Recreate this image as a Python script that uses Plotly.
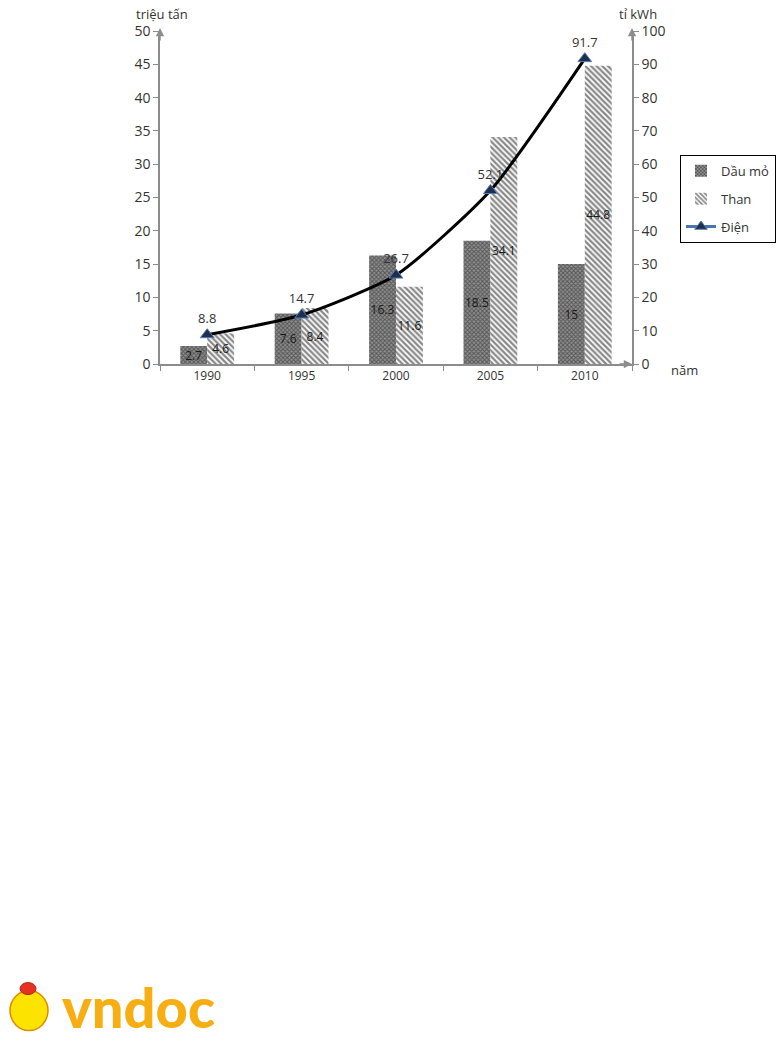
import plotly.graph_objects as go

years = ["1990", "1995", "2000", "2005", "2010"]
dau_mo = [2.7, 7.6, 16.3, 18.5, 15]
than = [4.6, 8.4, 11.6, 34.1, 44.8]
dien = [8.8, 14.7, 26.7, 52.1, 91.7]

FONT = "Open Sans"
AX = "#8c8c8c"
TXT = "#333333"

fig = go.Figure()

fig.add_trace(go.Bar(
    x=years, y=dau_mo, name="Dầu mỏ",
    marker=dict(color="#6a6a6a",
                pattern=dict(shape="x", fgcolor="#1a1a1a", bgcolor="#909090", size=3, solidity=0.55),
                line=dict(width=0)),
    text=[str(v) for v in dau_mo], textposition="inside", insidetextanchor="middle",
    textangle=0, textfont=dict(family=FONT, size=12, color="#1a1a1a"),
    legendgroup="a", yaxis="y",
))
fig.add_trace(go.Bar(
    x=years, y=than, name="Than",
    marker=dict(color="white",
                pattern=dict(shape="\\", fgcolor="#111111", bgcolor="white", size=4, solidity=0.55),
                line=dict(width=0)),
    text=[str(v) for v in than], textposition="inside", insidetextanchor="middle",
    textangle=0, textfont=dict(family=FONT, size=12, color="#1a1a1a"),
    legendgroup="b", yaxis="y",
))
fig.add_trace(go.Scatter(
    x=years, y=dien, name="Điện", mode="lines+markers+text",
    line=dict(color="black", width=3, shape="spline", smoothing=0.6),
    marker=dict(symbol="triangle-up", size=12, color="#1f2f4f", line=dict(color="#5a7fb5", width=1)),
    text=[str(v) for v in dien], textposition="top center",
    textfont=dict(family=FONT, size=13, color=TXT),
    yaxis="y2", showlegend=False, cliponaxis=False,
))
# legend-only entry for Điện (blue line with triangle as in the reference legend)
fig.add_trace(go.Scatter(
    x=[None], y=[None], name="Điện", mode="lines+markers",
    line=dict(color="#4a74ad", width=3),
    marker=dict(symbol="triangle-up", size=11, color="#1f2f4f", line=dict(color="#5a7fb5", width=1)),
    yaxis="y2", legendgroup="c",
))

# body margin is removed via post_script, so figure pixels = screen pixels
OFF = 0
W, H = 783, 1039
L, R, T, B = 160, 151, 31, 674.5
pw = W - L - R
ph = H - T - B


def px(xs):
    return (xs - OFF - L) / pw


def py(ys):
    return (H - B - (ys - OFF)) / ph


fig.update_layout(
    width=W, height=H,
    margin=dict(l=L, r=R, t=T, b=B, pad=0, autoexpand=False),
    paper_bgcolor="white", plot_bgcolor="white",
    font=dict(family=FONT, size=13, color=TXT),
    barmode="group", bargap=0.43, bargroupgap=0,
    uniformtext=dict(minsize=12, mode="show"),
    xaxis=dict(type="category", showline=True, linecolor=AX, linewidth=1.5,
               ticks="outside", tickson="boundaries", ticklen=5, tickcolor=AX,
               tickfont=dict(family=FONT, size=12, color=TXT), showgrid=False, zeroline=False),
    yaxis=dict(range=[0, 50], dtick=5, showline=True, linecolor=AX, linewidth=1.5,
               ticks="outside", ticklen=5, tickcolor=AX, showgrid=False, zeroline=False,
               tickfont=dict(family=FONT, size=14, color=TXT)),
    yaxis2=dict(range=[0, 100], dtick=10, overlaying="y", side="right",
                showline=True, linecolor=AX, linewidth=1.5,
                ticks="outside", ticklen=5, tickcolor=AX, showgrid=False, zeroline=False,
                tickfont=dict(family=FONT, size=14, color=TXT)),
    legend=dict(x=px(680), y=py(155), xanchor="left", yanchor="top",
                bordercolor="black", borderwidth=1, bgcolor="white",
                font=dict(family=FONT, size=13, color=TXT),
                traceorder="grouped", tracegroupgap=8, itemwidth=30),
    showlegend=True,
)

ann = []
# axis arrows
ann.append(dict(xref="paper", yref="paper", x=0, y=1.0 + 3 / ph, ax=0, ay=14, showarrow=True,
                arrowhead=2, arrowsize=1.1, arrowwidth=1.5, arrowcolor=AX, text=""))
ann.append(dict(xref="paper", yref="paper", x=1, y=1.0 + 3 / ph, ax=0, ay=14, showarrow=True,
                arrowhead=2, arrowsize=1.1, arrowwidth=1.5, arrowcolor=AX, text=""))
ann.append(dict(xref="paper", yref="paper", x=1.0, y=0, ax=-14, ay=0, showarrow=True,
                arrowhead=2, arrowsize=1.1, arrowwidth=1.5, arrowcolor=AX, text=""))
# axis titles
ann.append(dict(xref="paper", yref="paper", x=px(162), y=py(14), text="triệu tấn", showarrow=False,
                xanchor="center", yanchor="middle", font=dict(family=FONT, size=13, color=TXT)))
ann.append(dict(xref="paper", yref="paper", x=px(638), y=py(14), text="tỉ kWh", showarrow=False,
                xanchor="center", yanchor="middle", font=dict(family=FONT, size=13, color=TXT)))
ann.append(dict(xref="paper", yref="paper", x=px(684), y=py(371), text="năm", showarrow=False,
                xanchor="center", yanchor="middle", font=dict(family=FONT, size=13, color=TXT)))
# logo text
ann.append(dict(xref="paper", yref="paper", x=px(138), y=py(1008), text="vndoc", showarrow=False,
                xanchor="center", yanchor="middle",
                font=dict(family="Lato", size=56, color="#F7AE12", weight=900)))
fig.update_layout(annotations=ann)

# simple mascot placeholder next to the logo
fig.add_shape(type="circle", xref="paper", yref="paper",
              x0=px(10), x1=px(48), y0=py(1032), y1=py(992),
              fillcolor="#FCE300", line=dict(color="#E08A00", width=1.5))
fig.add_shape(type="circle", xref="paper", yref="paper",
              x0=px(20), x1=px(36), y0=py(996), y1=py(984),
              fillcolor="#E53222", line=dict(color="#B0241A", width=1))

fig.write_html("out.html", config={"displayModeBar": False},
               post_script="document.body.style.margin='0';")
